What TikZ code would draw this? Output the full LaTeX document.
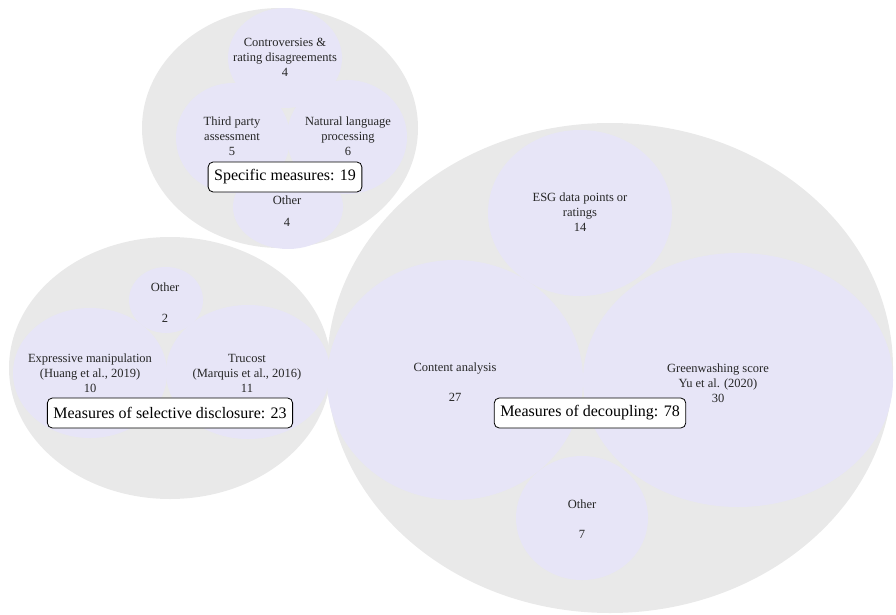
\documentclass[tikz,border=0pt]{standalone}
\usepackage{fontspec}
\setmainfont{Liberation Serif}
\definecolor{outerg}{RGB}{233,233,233}
\definecolor{innerl}{RGB}{231,229,247}
\tikzset{
  outerblob/.style={fill=outerg},
  innerblob/.style={fill=innerl},
  lbl/.style={align=center, inner sep=0pt, font=\fontsize{12.5}{15}\selectfont, text=black!85},
  titlebox/.style={draw=black, line width=0.8pt, rounded corners=5pt, fill=white,
    font=\fontsize{16}{18}\selectfont, inner xsep=6pt, minimum height=30pt}
}
\begin{document}
\begin{tikzpicture}[x=1pt,y=-1pt]
\useasboundingbox (0,0) rectangle (896,615);
% outer groups
\fill[outerblob] (280,128) ellipse [x radius=138pt, y radius=120pt];
\fill[outerblob] (170,368) ellipse [x radius=161pt, y radius=131pt];
\fill[outerblob] (610,368) ellipse [x radius=283pt, y radius=245pt];
% specific measures
\fill[innerblob] (285,58) ellipse [x radius=57pt, y radius=50pt];
\fill[innerblob] (233,138) ellipse [x radius=57pt, y radius=55pt];
\fill[innerblob] (347,137) ellipse [x radius=60pt, y radius=57pt];
\fill[innerblob] (288,207) ellipse [x radius=55pt, y radius=42pt];
% selective disclosure
\fill[innerblob] (166,300) ellipse [x radius=37pt, y radius=33pt];
\fill[innerblob] (90,373) ellipse [x radius=77pt, y radius=65pt];
\fill[innerblob] (248,372) ellipse [x radius=82pt, y radius=67pt];
% decoupling
\fill[innerblob] (580,213) ellipse [x radius=92pt, y radius=83pt];
\fill[innerblob] (455,380) ellipse [x radius=128pt, y radius=120pt];
\fill[innerblob] (738,380) ellipse [x radius=155pt, y radius=127pt];
\fill[innerblob] (582,518) ellipse [x radius=66pt, y radius=62pt];
% labels
\node[lbl] (contr) at (285,57) {Controversies \&\\rating disagreements\\4};
\node[lbl] (third) at (232,136) {Third party\\assessment\\5};
\node[lbl] (nlp) at (348,136) {Natural language\\processing\\6};
\node[lbl] (oth1) at (287,211) {Other\\[7pt]4};
\node[lbl] (oth2) at (165,303) {Other\\[16pt]2};
\node[lbl] (expr) at (90,373) {Expressive manipulation\\(Huang et al., 2019)\\10};
\node[lbl] (truc) at (247,373) {Trucost\\(Marquis et al., 2016)\\11};
\node[lbl] (esg) at (580,212) {ESG data points or\\ratings\\14};
\node[lbl] (cont) at (455,382) {Content analysis\\[15pt]27};
\node[lbl] (green) at (718,383) {Greenwashing score\\Yu et al. (2020)\\30};
\node[lbl] (oth3) at (582,519) {Other\\[15pt]7};
% titles
\node[titlebox] (tspec) at (285,177) {Specific measures: 19};
\node[titlebox] (tsel) at (170,413) {Measures of selective disclosure: 23};
\node[titlebox] (tdec) at (590,413) {Measures of decoupling: 78};
\end{tikzpicture}
\end{document}
